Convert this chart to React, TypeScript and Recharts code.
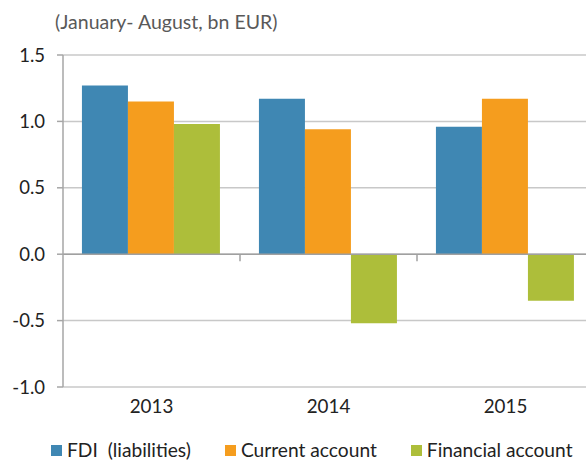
import { Bar, BarChart, CartesianGrid, Legend, ReferenceLine, XAxis, YAxis } from "recharts";

const years = ["2013", "2014", "2015"];
const fdi = [1.27, 1.17, 0.96];
const currentAccount = [1.15, 0.94, 1.17];
const financialAccount = [0.98, -0.52, -0.35];
const yTicks = [-1, -0.5, 0, 0.5, 1, 1.5];

const series = [
  { key: "fdi", name: "FDI  (liabilities)", color: "#3F87B3" },
  { key: "current", name: "Current account", color: "#F59D1E" },
  { key: "financial", name: "Financial account", color: "#ADBE3A" },
];

const data = years.map((year, i) => ({
  year,
  fdi: fdi[i],
  current: currentAccount[i],
  financial: financialAccount[i],
}));

const FONT = "Lato, 'Open Sans', sans-serif";

function ZeroLine(props: any) {
  const { x1, x2, y1 } = props;
  if (x1 == null) return null;
  const w = (x2 - x1) / years.length;
  return (
    <g>
      <line x1={x1} y1={y1} x2={x2} y2={y1} stroke="#a0a0a0" strokeWidth={1.5} />
      {years.slice(1).map((y, i) => (
        <line key={y} x1={x1 + w * (i + 1)} y1={y1} x2={x1 + w * (i + 1)} y2={y1 + 7} stroke="#a0a0a0" strokeWidth={1.5} />
      ))}
    </g>
  );
}

function LegendContent() {
  // keep series order (recharts sorts legend items by name)
  return (
    <div style={{ display: "flex", alignItems: "center", height: 22, paddingLeft: 51, fontFamily: FONT, fontSize: 19.2, lineHeight: "22px", color: "#222" }}>
      {series.map((s) => (
        <div key={s.key} style={{ display: "flex", alignItems: "center", marginRight: 34 }}>
          <span style={{ width: 11, height: 11, background: s.color, marginRight: 5, display: "inline-block" }} />
          <span style={{ whiteSpace: "pre" }}>{s.name}</span>
        </div>
      ))}
    </div>
  );
}

export default function App() {
  return (
    <>
      <style>{"body{margin:0}"}</style>
      <div style={{ position: "relative", width: 586, height: 460, overflow: "hidden", background: "#fff" }}>
        <div style={{ position: "absolute", left: 55, top: 10, fontFamily: FONT, fontSize: 19.5, color: "#595959", whiteSpace: "nowrap" }}>
          (January- August, bn EUR)
        </div>
        <BarChart
          width={600}
          height={460}
          data={data}
          margin={{ top: 55, right: 6, left: 0, bottom: 21 }}
          barCategoryGap="10.7%"
          barGap={0}
        >
          <CartesianGrid vertical={false} stroke="#c8c8c8" strokeWidth={1.5} />
          <XAxis
            dataKey="year"
            axisLine={false}
            tickLine={false}
            tickSize={0}
            tickMargin={13}
            height={30}
            tick={{ fontSize: 18.8, fill: "#222", fontFamily: FONT }}
          />
          <YAxis
            domain={[-1, 1.5]}
            ticks={yTicks}
            width={63}
            tickSize={6}
            tickMargin={12}
            tickFormatter={(v) => Number(v).toFixed(1)}
            axisLine={{ stroke: "#a6a6a6", strokeWidth: 1.5 }}
            tickLine={{ stroke: "#a6a6a6", strokeWidth: 1.5 }}
            tick={{ fontSize: 18.5, fill: "#222", fontFamily: FONT }}
          />
          <ReferenceLine y={0} shape={ZeroLine} />
          {series.map((s) => (
            <Bar key={s.key} dataKey={s.key} name={s.name} fill={s.color} isAnimationActive={false} />
          ))}
          <Legend
            verticalAlign="bottom"
            content={LegendContent}
            wrapperStyle={{ left: 0, width: 600, top: 439, bottom: "auto" }}
          />
        </BarChart>
      </div>
    </>
  );
}
